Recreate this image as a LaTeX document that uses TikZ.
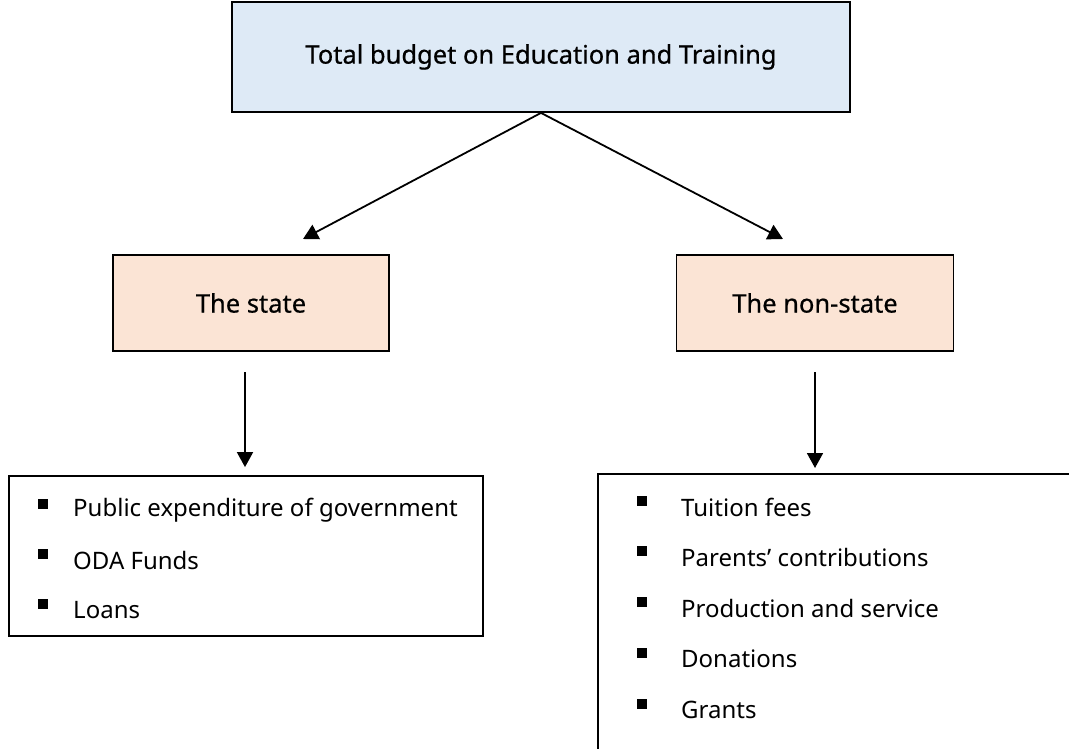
\documentclass[tikz,border=0pt]{standalone}
\usepackage{fontspec}
\setmainfont{Noto Sans}
\newfontfamily\labelfont[FakeBold=0.6]{Noto Sans}
\usetikzlibrary{arrows.meta}
\definecolor{topblue}{HTML}{DEEAF6}
\definecolor{peach}{HTML}{FBE4D5}
\begin{document}
\begin{tikzpicture}[x=1pt,y=-1pt,
  box/.style={draw=black,line width=1.8pt,inner sep=0pt,font=\labelfont\fontsize{25.5}{30}\selectfont},
  conn/.style={line width=1.8pt,-{Triangle[length=15pt,width=16pt]}},
  bul/.style={fill=black,minimum size=10pt,inner sep=0pt},
  item/.style={anchor=west,inner sep=0pt,font=\fontsize{24}{28}\selectfont}]
\useasboundingbox (0,0) rectangle (1069,749);
\node[box,fill=topblue,minimum width=618pt,minimum height=110pt] (top) at (541,57) {Total budget on Education and Training};
\node[box,fill=peach,minimum width=276pt,minimum height=96pt] (state) at (251,303) {The state};
\node[box,fill=peach,minimum width=277pt,minimum height=96pt] (nonstate) at (815,303) {The non-state};
\coordinate (lend) at (303,239);
\coordinate (rend) at (783,239);
\draw[conn] (top.south) -- (lend);
\draw[conn] (top.south) -- (rend);
\node[draw=black,line width=1.8pt,minimum width=474pt,minimum height=160pt,inner sep=0pt] (lbox) at (246,556) {};
\node[draw=black,line width=1.8pt,minimum width=500pt,minimum height=300pt,inner sep=0pt,anchor=north west] (rbox) at (597,473) {};
\coordinate (la) at (245,372);
\coordinate (ra) at (815,372);
\draw[conn] (la) -- ([yshift=8pt]lbox.north -| la);
\draw[conn] (ra) -- ([yshift=5pt]rbox.north -| ra);
% left items
\node[bul] (lb1) at (43,504) {}; \node[item] (lt1) at (73,510) {Public expenditure of government};
\node[bul] (lb2) at (43,554) {}; \node[item] (lt2) at (73,560) {ODA Funds};
\node[bul] (lb3) at (43,604) {}; \node[item] (lt3) at (73,610) {Loans};
% right items
\node[bul] (rb1) at (642,501) {}; \node[item] (rt1) at (681,507) {Tuition fees};
\node[bul] (rb2) at (642,551) {}; \node[item] (rt2) at (681,557) {Parents’ contributions};
\node[bul] (rb3) at (642,602) {}; \node[item] (rt3) at (681,608) {Production and service};
\node[bul] (rb4) at (642,653) {}; \node[item] (rt4) at (681,659) {Donations};
\node[bul] (rb5) at (642,704) {}; \node[item] (rt5) at (681,710) {Grants};
\end{tikzpicture}
\end{document}
